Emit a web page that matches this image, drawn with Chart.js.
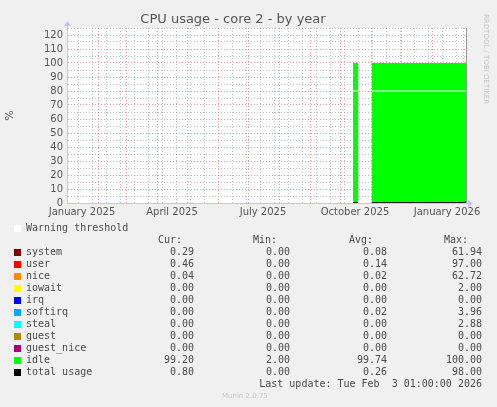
<!DOCTYPE html>
<html lang="en">
<head>
<meta charset="UTF-8">
<title>CPU usage - core 2 - by year</title>
<script src="https://cdn.jsdelivr.net/npm/chart.js"></script>
<style>
  html, body { margin: 0; padding: 0; background: #f0f0f0; }
  #wrap { position: relative; width: 497px; height: 407px; overflow: hidden; }
  #cpu { position: absolute; left: 0; top: 0; }
  .side { position: absolute; left: 482px; top: 14px; writing-mode: vertical-rl; font: 7px "DejaVu Sans", sans-serif; color: #c4c4c4; }
  #legend { position: absolute; left: 0; top: 222px; width: 497px; font: 10px "DejaVu Sans Mono", monospace; color: #4a4a4a; }
  .row { position: relative; height: 12px; line-height: 12px; white-space: pre; }
  .sw { position: absolute; left: 14px; top: 3px; width: 7px; height: 7px; }
  .name { position: absolute; left: 26px; }
  .num { position: absolute; text-align: right; }
  .footer { position: absolute; top: 392px; left: 222px; font: 7px "DejaVu Sans", sans-serif; color: #c8c8c8; }
</style>
</head>
<body>
<div id="wrap">
  <canvas id="cpu" width="497" height="407"></canvas>
  <div class="side">RRDTOOL / TOBI OETIKER</div>
  <div id="legend"></div>
  <div class="footer">Munin 2.0.75</div>
</div>
<script>
// x values are days counted from 1 January 2025
const monthStarts = [0, 31, 59, 90, 120, 151, 181, 212, 243, 273, 304, 334, 365, 396];
const minorTicks = [11, 25, 39, 53, 67, 81, 95, 109, 123, 137, 165, 179, 193, 207, 221, 235, 249, 263, 277, 291, 305, 319, 333, 347, 361, 375, 389];
const labelDays = [15, 105, 196, 288, 380];
const tickLabels = ['January 2025', 'April 2025', 'July 2025', 'October 2025', 'January 2026'];
const yTicks = [0, 5, 10, 15, 20, 25, 30, 35, 40, 45, 50, 55, 60, 65, 70, 75, 80, 85, 90, 95, 100, 105, 110, 115, 120, 125];

const days      = [286, 287, 288, 289, 290, 291, 298, 305, 312, 319, 326, 333, 340, 347, 354, 361, 368, 375, 382, 389, 396, 399];
const system    = [0.10, 0.08, 0.09, 0.07, 0.08, 0.10, null, 0.09, 0.07, 0.08, 0.06, 0.07, 0.09, 0.08, 0.07, 0.06, 0.08, 0.09, 0.07, 0.10, 0.12, 0.29];
const user      = [0.18, 0.15, 0.14, 0.16, 0.13, 0.17, null, 0.15, 0.12, 0.14, 0.13, 0.12, 0.15, 0.14, 0.13, 0.12, 0.14, 0.16, 0.13, 0.15, 0.18, 0.46];
const nice      = [0.02, 0.03, 0.02, 0.01, 0.02, 0.02, null, 0.02, 0.01, 0.02, 0.02, 0.03, 0.02, 0.01, 0.02, 0.02, 0.03, 0.02, 0.01, 0.02, 0.02, 0.04];
const iowait    = [0, 0, 0, 0, 0, 0, null, 0, 0, 0, 0, 0, 0, 0, 0, 0, 0, 0, 0, 0, 0, 0];
const irq       = [0, 0, 0, 0, 0, 0, null, 0, 0, 0, 0, 0, 0, 0, 0, 0, 0, 0, 0, 0, 0, 0];
const softirq   = [0.02, 0.01, 0.02, 0.03, 0.02, 0.01, null, 0.02, 0.02, 0.01, 0.02, 0.03, 0.02, 0.02, 0.01, 0.02, 0.02, 0.03, 0.02, 0.02, 0.01, 0.00];
const steal     = [0, 0, 0, 0, 0, 0, null, 0, 0, 0, 0, 0, 0, 0, 0, 0, 0, 0, 0, 0, 0, 0];
const guest     = [0, 0, 0, 0, 0, 0, null, 0, 0, 0, 0, 0, 0, 0, 0, 0, 0, 0, 0, 0, 0, 0];
const guestNice = [0, 0, 0, 0, 0, 0, null, 0, 0, 0, 0, 0, 0, 0, 0, 0, 0, 0, 0, 0, 0, 0];
const idle      = [99.68, 99.73, 99.73, 99.73, 99.75, 99.70, null, 99.72, 99.78, 99.75, 99.77, 99.75, 99.72, 99.75, 99.77, 99.78, 99.73, 99.70, 99.77, 99.71, 99.67, 99.21];
const total     = [0.32, 0.27, 0.27, 0.27, 0.25, 0.30, null, 0.28, 0.22, 0.25, 0.23, 0.25, 0.28, 0.25, 0.23, 0.22, 0.27, 0.30, 0.23, 0.29, 0.33, 0.80];
const warning   = [80, 80, 80, 80, 80, 80, null, 80, 80, 80, 80, 80, 80, 80, 80, 80, 80, 80, 80, 80, 80, 80];

const seriesNames  = ['system', 'user', 'nice', 'iowait', 'irq', 'softirq', 'steal', 'guest', 'guest_nice', 'idle', 'total usage'];
const seriesColors = ['#7f0000', '#ff0000', '#ff8c00', '#ffff00', '#0000ff', '#00aaff', '#00ffff', '#b08c00', '#aa0077', '#00ff00', '#000000'];
const curValues = [0.29, 0.46, 0.04, 0.00, 0.00, 0.00, 0.00, 0.00, 0.00, 99.20, 0.80];
const minValues = [0.00, 0.00, 0.00, 0.00, 0.00, 0.00, 0.00, 0.00, 0.00, 2.00, 0.00];
const avgValues = [0.08, 0.14, 0.02, 0.00, 0.00, 0.02, 0.00, 0.00, 0.00, 99.74, 0.26];
const maxValues = [61.94, 97.00, 62.72, 2.00, 0.00, 3.96, 2.88, 0.00, 0.00, 100.00, 98.00];

function pts(values) {
  return days.map((d, i) => ({ x: d, y: values[i] }));
}

// legend table
const legend = document.getElementById('legend');
function addRow(html) {
  const row = document.createElement('div');
  row.className = 'row';
  row.innerHTML = html;
  legend.appendChild(row);
}
addRow('<span class="sw" style="background:#ffffff"></span><span class="name">Warning threshold</span>');
addRow('<span class="num" style="right:315px">Cur:</span><span class="num" style="right:220px">Min:</span>' +
       '<span class="num" style="right:124px">Avg:</span><span class="num" style="right:29px">Max:</span>');
seriesNames.forEach((n, i) => {
  addRow('<span class="sw" style="background:' + seriesColors[i] + '"></span><span class="name">' + n + '</span>' +
    '<span class="num" style="right:303px">' + curValues[i].toFixed(2) + '</span>' +
    '<span class="num" style="right:207px">' + minValues[i].toFixed(2) + '</span>' +
    '<span class="num" style="right:110px">' + avgValues[i].toFixed(2) + '</span>' +
    '<span class="num" style="right:15px">' + maxValues[i].toFixed(2) + '</span>');
});
addRow('<span class="num" style="right:15px">Last update: Tue Feb  3 01:00:00 2026</span>');

const stackData = [system, user, nice, iowait, irq, softirq, steal, guest, guestNice, idle];
const areaSets = stackData.map((vals, i) => ({
  label: seriesNames[i],
  data: pts(vals),
  backgroundColor: seriesColors[i],
  borderColor: 'transparent',
  borderWidth: 1,
  fill: i === 0 ? 'origin' : 'stack',
  stack: 'cpu',
  pointRadius: 0,
  tension: 0
}));

const axisBlue = '#c4c4f2';

const decor = {
  id: 'decor',
  beforeDraw(chart) {
    const { ctx, chartArea: a } = chart;
    ctx.save();
    ctx.fillStyle = '#f0f0f0';
    ctx.fillRect(0, 0, chart.width, chart.height);
    ctx.fillStyle = '#ffffff';
    ctx.fillRect(a.left, a.top, a.right - a.left, a.bottom - a.top);
    ctx.restore();
  },
  afterDraw(chart) {
    const { ctx, chartArea: a } = chart;
    ctx.save();
    ctx.fillStyle = axisBlue;
    ctx.strokeStyle = axisBlue;
    ctx.lineWidth = 1;
    // arrow on the y axis
    ctx.beginPath();
    ctx.moveTo(a.left + 0.5, a.top);
    ctx.lineTo(a.left + 0.5, a.top - 3);
    ctx.stroke();
    ctx.beginPath();
    ctx.moveTo(a.left - 3, a.top - 2);
    ctx.lineTo(a.left + 4, a.top - 2);
    ctx.lineTo(a.left + 0.5, a.top - 7);
    ctx.closePath();
    ctx.fill();
    // arrow on the x axis
    ctx.beginPath();
    ctx.moveTo(a.right, a.bottom + 0.5);
    ctx.lineTo(a.right + 3, a.bottom + 0.5);
    ctx.stroke();
    ctx.beginPath();
    ctx.moveTo(a.right + 2, a.bottom - 3);
    ctx.lineTo(a.right + 2, a.bottom + 4);
    ctx.lineTo(a.right + 7, a.bottom + 0.5);
    ctx.closePath();
    ctx.fill();
    ctx.restore();
  }
};

const allXTicks = monthStarts.concat(minorTicks, labelDays).sort((a, b) => a - b);
const red = 'rgba(228, 110, 110, 0.7)';
const gray = 'rgba(150, 150, 150, 0.6)';

new Chart(document.getElementById('cpu'), {
  type: 'line',
  data: {
    datasets: [
      { label: 'Warning threshold', data: pts(warning), borderColor: '#ffffff', borderWidth: 1, fill: false, stack: 'warn', pointRadius: 0 },
      { label: 'total usage', data: pts(total), borderColor: '#000000', borderWidth: 1, fill: false, stack: 'total', pointRadius: 0 }
    ].concat(areaSets)
  },
  options: {
    responsive: false,
    devicePixelRatio: 1,
    animation: false,
    layout: { padding: { top: 0, left: 0, right: 31, bottom: 187 } },
    plugins: {
      legend: { display: false },
      tooltip: { enabled: false },
      title: {
        display: true,
        text: 'CPU usage - core 2 - by year',
        color: '#555555',
        font: { family: 'DejaVu Sans', size: 13, weight: 'normal' },
        padding: { top: 12, bottom: 0.4 }
      }
    },
    scales: {
      x: {
        type: 'linear',
        min: 0,
        max: 399,
        afterBuildTicks: (s) => { s.ticks = allXTicks.map(v => ({ value: v })); },
        afterFit: (s) => { s.height = 17; },
        ticks: {
          autoSkip: false,
          maxRotation: 0,
          padding: 3,
          color: '#555555',
          font: { family: 'DejaVu Sans', size: 10 },
          callback: (v) => { const k = labelDays.indexOf(v); return k >= 0 ? tickLabels[k] : ''; }
        },
        grid: {
          drawTicks: false,
          color: (c) => {
            const v = c.tick ? c.tick.value : -1;
            if (monthStarts.includes(v)) return red;
            if (minorTicks.includes(v)) return gray;
            return 'transparent';
          }
        },
        border: { display: true, color: axisBlue, width: 1, dash: [1, 2] }
      },
      y: {
        stacked: true,
        min: 0,
        max: 125,
        afterBuildTicks: (s) => { s.ticks = yTicks.map(v => ({ value: v })); },
        afterFit: (s) => { s.width = 67; },
        ticks: {
          autoSkip: false,
          padding: 4,
          color: '#555555',
          font: { family: 'DejaVu Sans', size: 10 },
          callback: (v) => (v % 10 === 0 ? v : '')
        },
        grid: {
          drawTicks: false,
          color: (c) => (c.tick && c.tick.value % 10 === 0 ? red : gray)
        },
        border: { display: true, color: axisBlue, width: 1, dash: [1, 2] },
        title: {
          display: true,
          text: '%',
          color: '#555555',
          font: { family: 'DejaVu Sans', size: 11 },
          padding: { top: 4, bottom: 0 }
        }
      },
      yr: {
        type: 'linear',
        position: 'right',
        min: 0,
        max: 125,
        afterFit: (s) => { s.width = 0; },
        ticks: { display: false },
        grid: { display: false, drawTicks: false },
        border: { display: true, color: '#999999', width: 1 }
      }
    }
  },
  plugins: [decor]
});
</script>
</body>
</html>
